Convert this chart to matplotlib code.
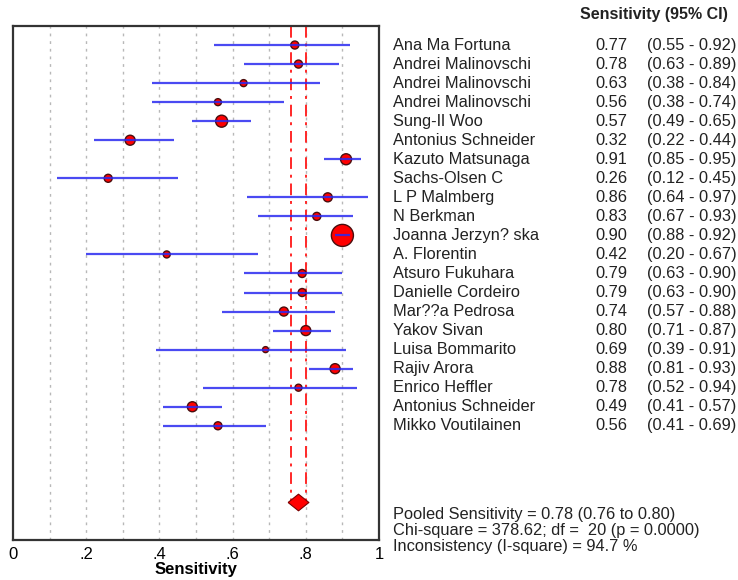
"""Forest plot of sensitivity with 95% CI, pooled estimate."""
import matplotlib
matplotlib.use("Agg")
import matplotlib.pyplot as plt
import matplotlib.transforms as mtransforms

FONT = "Liberation Sans"
plt.rcParams["font.family"] = [FONT, "DejaVu Sans"]
TXT = 11.8

studies = ["Ana Ma Fortuna", "Andrei Malinovschi", "Andrei Malinovschi", "Andrei Malinovschi",
           "Sung-Il Woo", "Antonius Schneider", "Kazuto Matsunaga", "Sachs-Olsen C",
           "L P Malmberg", "N Berkman", "Joanna Jerzyn? ska", "A. Florentin",
           "Atsuro Fukuhara", "Danielle Cordeiro", "Mar??a Pedrosa", "Yakov Sivan",
           "Luisa Bommarito", "Rajiv Arora", "Enrico Heffler", "Antonius Schneider",
           "Mikko Voutilainen"]
sens = [0.77, 0.78, 0.63, 0.56, 0.57, 0.32, 0.91, 0.26, 0.86, 0.83, 0.90,
        0.42, 0.79, 0.79, 0.74, 0.80, 0.69, 0.88, 0.78, 0.49, 0.56]
ci_lo = [0.55, 0.63, 0.38, 0.38, 0.49, 0.22, 0.85, 0.12, 0.64, 0.67, 0.88,
         0.20, 0.63, 0.63, 0.57, 0.71, 0.39, 0.81, 0.52, 0.41, 0.41]
ci_hi = [0.92, 0.89, 0.84, 0.74, 0.65, 0.44, 0.95, 0.45, 0.97, 0.93, 0.92,
         0.67, 0.90, 0.90, 0.88, 0.87, 0.91, 0.93, 0.94, 0.57, 0.69]
# relative study weights (drive marker area)
weights = [6.4, 6.4, 4.9, 4.9, 14.4, 10.0, 12.1, 6.4, 8.1, 6.4, 48.4,
           4.9, 6.4, 6.4, 8.1, 10.0, 3.6, 10.0, 4.9, 10.0, 6.4]
pooled, pooled_lo, pooled_hi = 0.78, 0.76, 0.80
summary_lines = ["Pooled Sensitivity = 0.78 (0.76 to 0.80)",
                 "Chi-square = 378.62; df =  20 (p = 0.0000)",
                 "Inconsistency (I-square) = 94.7 %"]
xticks = [0, 0.2, 0.4, 0.6, 0.8, 1.0]
xticklabels = ["0", ".2", ".4", ".6", ".8", "1"]

fig = plt.figure(figsize=(7.38, 5.8), dpi=100)
ax = fig.add_axes([13 / 738, 1 - 540 / 580, 366 / 738, 514 / 580])

rows = list(range(len(studies)))
pooled_row = len(studies) + 3

for x in [0.1 * i for i in range(1, 10)]:
    ax.axvline(x, color="#b8b8b8", lw=1, ls=(0, (2, 3.5)), zorder=1)

for x in (pooled_lo, pooled_hi):
    ax.plot([x, x], [-1, pooled_row], color="#ff2828", lw=1.4,
            ls=(0, (6, 3, 1.5, 3)), zorder=2)

ax.scatter(sens, rows, s=[w * 5.2 for w in weights], color="#ff0000",
           edgecolor="#4a0e0e", linewidth=1.0, zorder=3)
ax.hlines(rows, ci_lo, ci_hi, color="#2a2af0", lw=1.6, alpha=0.85, zorder=4)

diamond = [(-1, 0), (0, 0.8), (1, 0), (0, -0.8), (-1, 0)]
ax.plot([pooled], [pooled_row], marker=diamond, markersize=15, color="#ff0000",
        markeredgecolor="#7a0000", markeredgewidth=0.8, zorder=5)

ax.set_xlim(0, 1)
ax.set_ylim(pooled_row + 2, -1)
ax.set_yticks([])
ax.set_xticks(xticks)
ax.set_xticklabels(xticklabels, fontsize=12)
ax.tick_params(axis="x", length=0, pad=5)
ax.set_xlabel("Sensitivity", fontsize=12, fontweight="bold", labelpad=0)
for sp in ax.spines.values():
    sp.set_linewidth(1.6)
    sp.set_color("#333333")

trans = mtransforms.blended_transform_factory(fig.transFigure, ax.transData)
for r, name, s, lo, hi in zip(rows, studies, sens, ci_lo, ci_hi):
    ax.text(393 / 738, r, name, transform=trans, ha="left", va="center",
            fontsize=TXT, color="#222222", clip_on=False)
    ax.text(627 / 738, r, f"{s:.2f}", transform=trans, ha="right", va="center",
            fontsize=TXT, color="#222222", clip_on=False)
    ax.text(647 / 738, r, f"({lo:.2f} - {hi:.2f})", transform=trans, ha="left",
            va="center", fontsize=TXT, color="#222222", clip_on=False)

fig.text(654 / 738, 1 - 15 / 580, "Sensitivity (95% CI)", ha="center", va="center",
         fontsize=11.5, fontweight="bold", color="#222222")

for i, line in enumerate(summary_lines):
    fig.text(393 / 738, 1 - (514 + 16.5 * i) / 580, line, ha="left", va="center",
             fontsize=TXT, color="#222222")

fig.savefig("out.png", dpi=100)
